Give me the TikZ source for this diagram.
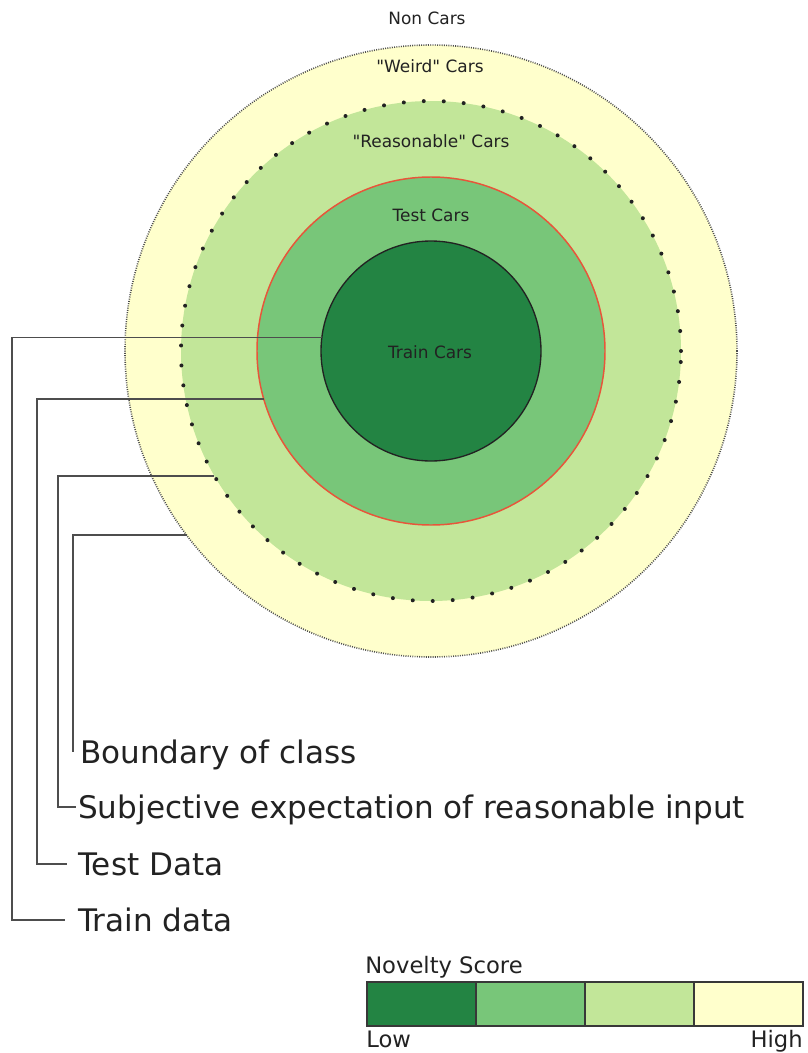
\documentclass[tikz,border=0pt]{standalone}
\usepackage{fontspec}
\setmainfont{DejaVu Sans}[Ligatures=TeXOff]
\definecolor{gA}{HTML}{238443}
\definecolor{gB}{HTML}{78C679}
\definecolor{gC}{HTML}{C2E699}
\definecolor{gD}{HTML}{FFFFCC}
\definecolor{ink}{HTML}{222222}
\definecolor{connc}{HTML}{4D4D4D}
\definecolor{redline}{HTML}{E8553A}
\begin{document}
\begin{tikzpicture}[x=0.75pt,y=-0.75pt,
  ring/.style={circle, inner sep=0pt, outer sep=0pt},
  clabel/.style={inner sep=0pt, text=ink, font=\fontsize{12.7pt}{15pt}\selectfont, text height=9.3pt, text depth=0pt},
  blabel/.style={anchor=west, inner sep=0pt, text=ink, font=\fontsize{23.3pt}{28pt}\selectfont, text height=17pt, text depth=0pt},
  llabel/.style={inner sep=0pt, text=ink, font=\fontsize{17pt}{20pt}\selectfont, text height=12.4pt, text depth=0pt},
  conn/.style={draw=connc, line width=1pt},
  legbox/.style={draw=ink!90, line width=1.3pt, minimum width=81.75pt, minimum height=33pt, inner sep=0pt, outer sep=0pt}
]
\useasboundingbox (0,0) rectangle (807,1053);

% circles
\node[ring, fill=gD, draw=ink!80, line width=1.2pt, dash pattern=on 0.7pt off 1pt, minimum size=459pt] (outer) at (431,351) {};
\node[ring, fill=gC, draw=ink, line width=3pt, line cap=round, dash pattern=on 0pt off 15pt, minimum size=375pt] (mid) at (431,351) {};
\node[ring, fill=gB, draw=redline, line width=1.1pt, minimum size=261pt] (test) at (431,351) {};
\node[ring, fill=gA, draw=ink, line width=1pt, minimum size=165pt] (train) at (431,351) {};

% circle labels
\node[clabel] (tNon) at (427,18) {Non Cars};
\node[clabel] (tWeird) at (430,66) {"Weird" Cars};
\node[clabel] (tReas) at (431,141) {"Reasonable" Cars};
\node[clabel] (tTest) at (431,215.5) {Test Cars};
\node[clabel] (tTrain) at (430,352) {Train Cars};

% bottom labels
\node[blabel] (lBound) at (80,752) {Boundary of class};
\node[blabel] (lSubj) at (78,807) {Subjective expectation of reasonable input};
\node[blabel] (lTest) at (78,864) {Test Data};
\node[blabel] (lTrain) at (78,920) {Train data};

% connectors
\draw[conn] (train.173.7) -| ([xshift=-49.5pt]lTrain.west) -- ([xshift=-9.75pt]lTrain.west);
\draw[conn] (test.196.7) -| ([xshift=-30.75pt]lTest.west) -- ([xshift=-8.25pt]lTest.west);
\draw[conn] (mid.210) -| ([xshift=-15pt]lSubj.west) -- ([xshift=-1.2pt]lSubj.west);
\draw[conn] (outer.217.9) -| ([xshift=-5.25pt]lBound.west);

% legend
\node[llabel, anchor=west] (nov) at (365,965) {Novelty Score};
\node[legbox, fill=gA] (k1) at (421.5,1004) {};
\node[legbox, fill=gB, anchor=west] (k2) at (k1.east) {};
\node[legbox, fill=gC, anchor=west] (k3) at (k2.east) {};
\node[legbox, fill=gD, anchor=west] (k4) at (k3.east) {};
\node[llabel, anchor=west] (low) at (366,1039.5) {Low};
\node[llabel, anchor=east] (high) at (803,1039.5) {High};
\end{tikzpicture}
\end{document}
